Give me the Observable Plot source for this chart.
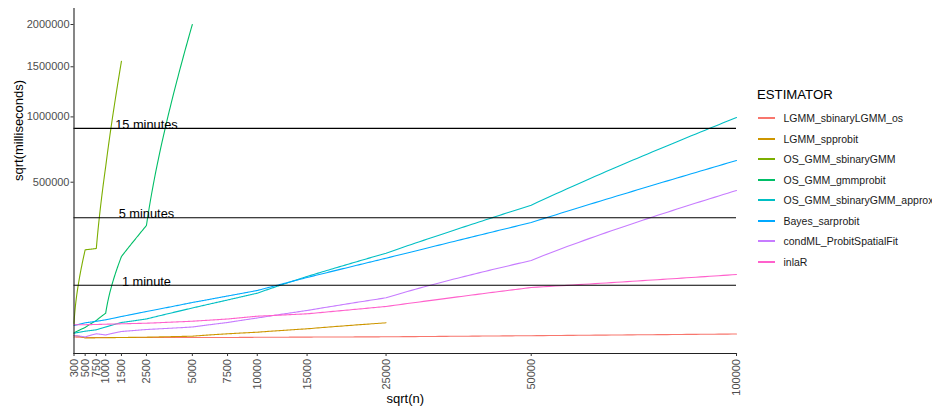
<!DOCTYPE html>
<html>
<head>
<meta charset="utf-8">
<script src="https://cdn.jsdelivr.net/npm/d3@7"></script>
<script src="https://cdn.jsdelivr.net/npm/@observablehq/plot@0.6"></script>
<style>
  html, body { margin: 0; padding: 0; background: #fff; }
  #wrap { position: relative; width: 932px; height: 412px; font-family: "Liberation Sans", Arial, Helvetica, sans-serif; }
  #legend { position: absolute; left: 757px; top: 86px; color: #000; }
  #legend .title { font-size: 13.2px; height: 18px; line-height: 18px; margin-bottom: 4px; }
  #legend .row { display: flex; align-items: center; height: 20.5px; font-size: 10.5px; color: #1a1a1a; white-space: nowrap; }
  #legend .key { width: 17px; height: 2px; margin-left: 1px; }
  #legend .lab { margin-left: 8.5px; }
</style>
</head>
<body>
<div id="wrap"><div id="chart"></div><div id="legend"></div></div>
<script>
// ---------- data ----------
const estimators = ["LGMM_sbinaryLGMM_os", "LGMM_spprobit", "OS_GMM_sbinaryGMM", "OS_GMM_gmmprobit",
  "OS_GMM_sbinaryGMM_approx", "Bayes_sarprobit", "condML_ProbitSpatialFit", "inlaR"];
const colors = ["#F8766D", "#CD9600", "#7CAE00", "#00BE67", "#00BFC4", "#00A9FF", "#C77CFF", "#FF61CC"];

const nAll = [300, 500, 750, 1000, 1500, 2500, 5000, 7500, 10000, 15000, 25000, 50000, 100000];
const nTo25000 = [300, 500, 750, 1000, 1500, 2500, 5000, 7500, 10000, 15000, 25000];
const nTo5000 = [300, 500, 750, 1000, 1500, 2500, 5000];
const nTo1500 = [300, 500, 750, 1000, 1500];

const ms_LGMM_sbinaryLGMM_os = [171, 118, 118, 118, 118, 118, 118, 118, 138, 160, 196, 358, 704];
const ms_LGMM_spprobit = [393, 74, 90, 99, 118, 149, 278, 753, 1198, 2486, 5892];
const ms_OS_GMM_sbinaryGMM = [5420, 163300, 168000, 604700, 1561700];
const ms_OS_GMM_gmmprobit = [963, 3101, 7582, 14353, 139900, 263200, 2000000];
const ms_OS_GMM_sbinaryGMM_approx = [908, 1529, 2059, 3356, 6101, 8798, 20484, 32038, 43881, 80860, 151190, 364860, 994550];
const ms_Bayes_sarprobit = [4180, 5892, 6970, 8138, 11027, 16238, 28150, 38780, 49100, 78330, 134250, 277200, 647200];
const ms_condML_ProbitSpatialFit = [393, 171, 753, 487, 1425, 2183, 3356, 6101, 9659, 17400, 35665, 126800, 448840];
const ms_inlaR = [4596, 4657, 4780, 4968, 5224, 5620, 7045, 8798, 11311, 13716, 22454, 55240, 86036];

const thresholdMs = [60000, 300000, 900000];
const thresholdLabels = ["1 minute", "5 minutes", "15 minutes"];
const thresholdLabelN = 2500;

const xTicks = nAll;
const yTicks = [500000, 1000000, 1500000, 2000000];

// ---------- table ----------
const series = [
  [estimators[0], nAll, ms_LGMM_sbinaryLGMM_os],
  [estimators[1], nTo25000, ms_LGMM_spprobit],
  [estimators[2], nTo1500, ms_OS_GMM_sbinaryGMM],
  [estimators[3], nTo5000, ms_OS_GMM_gmmprobit],
  [estimators[4], nAll, ms_OS_GMM_sbinaryGMM_approx],
  [estimators[5], nAll, ms_Bayes_sarprobit],
  [estimators[6], nAll, ms_condML_ProbitSpatialFit],
  [estimators[7], nAll, ms_inlaR]
];
const rows = series.flatMap(([est, ns, vs]) => ns.map((n, i) => ({estimator: est, n, ms: vs[i]})));

// ---------- layout ----------
const W = 932, H = 412;
const mLeft = 73.5, mRight = 196, mTop = 8, mBottom = 59;
const xDomain = [300, 100000];
const yDomain = [-3708, 2208200];

// mirror scales so segments can be drawn as in a transformed coordinate system
const xs = d3.scaleSqrt().domain(xDomain).range([mLeft, W - mRight]);
const ys = d3.scaleSqrt().domain(yDomain).range([H - mBottom, mTop]);
function transCurve(context) {
  let x0, y0, first = true;
  return {
    areaStart() {}, areaEnd() {},
    lineStart() { first = true; },
    lineEnd() {},
    point(x, y) {
      x = +x; y = +y;
      if (first) { context.moveTo(x, y); first = false; }
      else {
        const n0 = xs.invert(x0), v0 = ys.invert(y0), n1 = xs.invert(x), v1 = ys.invert(y);
        const k = 40;
        for (let i = 1; i <= k; i++) {
          const f = i / k;
          context.lineTo(xs(n0 + (n1 - n0) * f), ys(v0 + (v1 - v0) * f));
        }
      }
      x0 = x; y0 = y;
    }
  };
}

const font = "'Liberation Sans', Arial, Helvetica, sans-serif";
const fmt = d3.format("d");

const chart = Plot.plot({
  width: W, height: H,
  marginLeft: mLeft, marginRight: mRight, marginTop: mTop, marginBottom: mBottom,
  style: {fontFamily: font, background: "white", overflow: "visible"},
  x: {type: "sqrt", domain: xDomain, label: null},
  y: {type: "sqrt", domain: yDomain, label: null},
  color: {domain: estimators, range: colors},
  marks: [
    Plot.line(rows, {x: "n", y: "ms", z: "estimator", stroke: "estimator", strokeWidth: 1.1, curve: transCurve}),
    Plot.ruleY(thresholdMs, {stroke: "black", strokeWidth: 1.1}),
    Plot.text(thresholdMs, {x: () => thresholdLabelN, y: d => d, text: (d, i) => thresholdLabels[i],
      fontSize: 12.8, fill: "black", textAnchor: "middle", dy: -3.6}),
    Plot.frame({anchor: "left", stroke: "#222", strokeWidth: 1.1}),
    Plot.frame({anchor: "bottom", stroke: "#222", strokeWidth: 1.1}),
    Plot.axisY(yTicks, {anchor: "left", tickSize: 3, tickPadding: 1.5, tickFormat: fmt, fontSize: 11,
      fill: "#4d4d4d", stroke: "#333", label: null}),
    Plot.axisX(xTicks, {anchor: "bottom", tickSize: 3, tickPadding: 2.5, tickRotate: -90, tickFormat: fmt, fontSize: 11,
      fill: "#4d4d4d", stroke: "#333", label: null}),
    Plot.text(["sqrt(milliseconds)"], {frameAnchor: "left", dx: -55.5, rotate: -90, text: d => d, fontSize: 13, fill: "black"}),
    Plot.text(["sqrt(n)"], {frameAnchor: "bottom", dy: 49, text: d => d, fontSize: 13, fill: "black"})
  ]
});
document.getElementById("chart").appendChild(chart);

// ---------- legend ----------
const legend = document.getElementById("legend");
const t = document.createElement("div");
t.className = "title"; t.textContent = "ESTIMATOR";
legend.appendChild(t);
estimators.forEach((e, i) => {
  const r = document.createElement("div"); r.className = "row";
  const k = document.createElement("div"); k.className = "key"; k.style.backgroundColor = colors[i];
  const l = document.createElement("div"); l.className = "lab"; l.textContent = e;
  r.appendChild(k); r.appendChild(l); legend.appendChild(r);
});
</script>
</body>
</html>
